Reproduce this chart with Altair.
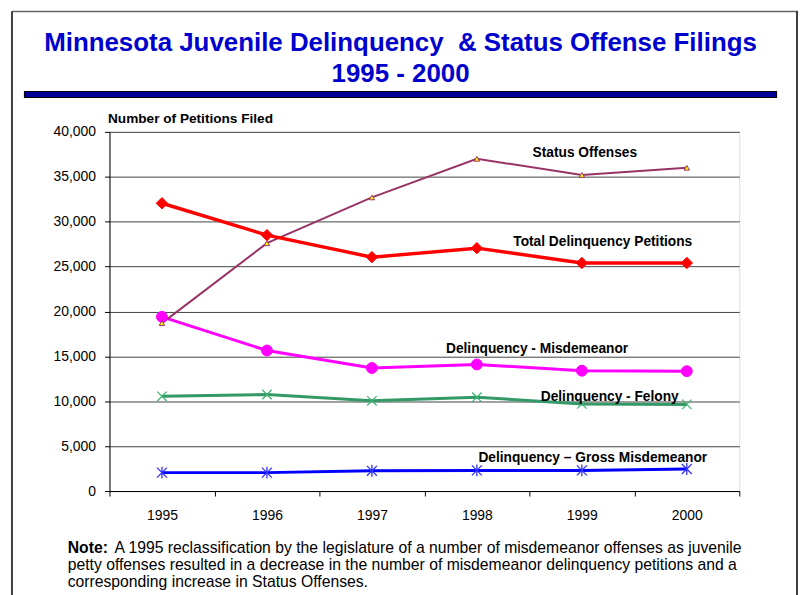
import altair as alt
import pandas as pd

FONT = "Liberation Sans, Arial, sans-serif"

years = ["1995", "1996", "1997", "1998", "1999", "2000"]
status = [18700, 27600, 32700, 37000, 35200, 36000]
total = [32050, 28500, 26050, 27050, 25400, 25400]
misd = [19400, 15650, 13700, 14100, 13400, 13350]
felony = [10550, 10750, 10050, 10450, 9700, 9650]
gross = [2050, 2050, 2250, 2300, 2300, 2450]

series_names = [
    "Status Offenses",
    "Total Delinquency Petitions",
    "Delinquency - Misdemeanor",
    "Delinquency - Felony",
    "Delinquency \u2013 Gross Misdemeanor",
]
y_ticks = [0, 5000, 10000, 15000, 20000, 25000, 30000, 35000, 40000]

title_lines = ["Minnesota Juvenile Delinquency\u00a0 & Status Offense Filings", "1995 - 2000"]
note_bold = "Note:"
note_lines = [
    "A 1995 reclassification by the legislature of a number of misdemeanor offenses as juvenile",
    "petty offenses resulted in a decrease in the number of misdemeanor delinquency petitions and a",
    "corresponding increase in Status Offenses.",
]

rows = []
for name, vals in zip(series_names, [status, total, misd, felony, gross]):
    for yr, v in zip(years, vals):
        rows.append({"year": yr, "series": name, "value": v})
df = pd.DataFrame(rows)
one = pd.DataFrame([{"k": 0}])

x_enc = alt.X(
    "year:N",
    scale=alt.Scale(type="band", domain=years, paddingInner=0, paddingOuter=0),
    axis=alt.Axis(
        title=None, tickBand="extent", labelAngle=0, labelFontSize=14, labelFont=FONT,
        labelColor="black", tickColor="black", domainColor="black", tickSize=5,
        labelPadding=13, grid=False,
    ),
)
y_enc = alt.Y(
    "value:Q",
    scale=alt.Scale(domain=[0, 40000], nice=False),
    axis=alt.Axis(
        values=y_ticks, format=",.0f", title="Number of Petitions Filed", titleAngle=0,
        titleAlign="left", titleBaseline="alphabetic", titleX=-2, titleY=-9,
        titleFontSize=13.7, titleFontWeight="bold", titleFont=FONT, titleColor="black",
        gridColor="#444444", gridWidth=1, labelFontSize=14, labelFont=FONT,
        labelColor="black", labelPadding=9, tickSize=5, tickColor="black",
        domainColor="black",
    ),
)

X_PATH = "M-1,-1L1,1M-1,1L1,-1"
AST_PATH = "M-1,-1L1,1M-1,1L1,-1M0,-1.2L0,1.2"

styles = {
    "Status Offenses": dict(color="#993366", width=2, shape="triangle-up", size=30,
                            filled=True, fill="#FFFF00", stroke="#993366", sw=1),
    "Total Delinquency Petitions": dict(color="#FF0000", width=3.5, shape="diamond", size=130,
                                        filled=True, fill="#FF0000", stroke="#FF0000", sw=1),
    "Delinquency - Misdemeanor": dict(color="#FF00FF", width=3, shape="circle", size=120,
                                      filled=True, fill="#FF00FF", stroke="#FF00FF", sw=1),
    "Delinquency - Felony": dict(color="#339966", width=3, shape=X_PATH, size=90,
                                 filled=False, fill="none", stroke="#3CB371", sw=1.2),
    "Delinquency \u2013 Gross Misdemeanor": dict(color="#0000FF", width=3, shape=AST_PATH, size=100,
                                                filled=False, fill="none", stroke="#3333FF", sw=1.3),
}

order = [
    "Delinquency \u2013 Gross Misdemeanor",
    "Delinquency - Felony",
    "Delinquency - Misdemeanor",
    "Status Offenses",
    "Total Delinquency Petitions",
]

layers = []
# slide frame
layers.append(alt.Chart(one).mark_rule(color="#666666", strokeWidth=1.5).encode(
    x=alt.value(-98), x2=alt.value(700), y=alt.value(-121)))
layers.append(alt.Chart(one).mark_rule(color="black", strokeWidth=1.5).encode(
    x=alt.value(-98), y=alt.value(-121), y2=alt.value(470)))
layers.append(alt.Chart(one).mark_rule(color="black", strokeWidth=1.5).encode(
    x=alt.value(691), y=alt.value(-121), y2=alt.value(470)))
# blue bar
layers.append(alt.Chart(one).mark_rule(color="black", strokeWidth=7).encode(
    x=alt.value(-86), x2=alt.value(671), y=alt.value(-37.5)))
layers.append(alt.Chart(one).mark_rule(color="#000099", strokeWidth=5).encode(
    x=alt.value(-85), x2=alt.value(670), y=alt.value(-37.5)))

for name in order:
    s = styles[name]
    base = alt.Chart(df).transform_filter(alt.datum.series == name)
    layers.append(base.mark_line(color=s["color"], strokeWidth=s["width"]).encode(x=x_enc, y=y_enc))
for name in order:
    s = styles[name]
    base = alt.Chart(df).transform_filter(alt.datum.series == name)
    layers.append(base.mark_point(
        shape=s["shape"], size=s["size"], filled=s["filled"], fill=s["fill"],
        stroke=s["stroke"], strokeWidth=s["sw"], opacity=1,
    ).encode(x=x_enc, y=y_enc))

# series labels (anchored near the 1999 point, in data units)
label_specs = [
    ("Status Offenses", 37640, 3),
    ("Total Delinquency Petitions", 27750, 21),
    ("Delinquency - Misdemeanor", 15850, -45),
    ("Delinquency - Felony", 10450, 28),
    ("Delinquency \u2013 Gross Misdemeanor", 3730, 11),
]
for text, val, dx in label_specs:
    ldf = pd.DataFrame([{"year": "1999", "value": val, "label": text}])
    layers.append(alt.Chart(ldf).mark_text(
        font=FONT, fontSize=13.8, fontWeight="bold", color="black",
        align="center", baseline="middle", dx=dx,
    ).encode(x=x_enc, y=y_enc, text="label:N"))

# note
NOTE_SIZE = 15.8
layers.append(alt.Chart(one).mark_text(
    font=FONT, fontSize=NOTE_SIZE, fontWeight="bold", color="black", align="left",
    baseline="alphabetic", text=note_bold).encode(x=alt.value(-42), y=alt.value(423)))
note_x = [5, -42, -42]
note_y = [423, 440, 457]
for t, nx, ny in zip(note_lines, note_x, note_y):
    layers.append(alt.Chart(one).mark_text(
        font=FONT, fontSize=NOTE_SIZE, color="black", align="left", baseline="alphabetic",
        text=t).encode(x=alt.value(nx), y=alt.value(ny)))

chart = alt.layer(*layers).properties(
    width=633,
    height=361,
    autosize=alt.AutoSizeParams(type="none"),
    padding={"left": 102, "top": 123, "right": 59, "bottom": 103},
    title=alt.TitleParams(
        text=title_lines, font=FONT, fontSize=26, fontWeight="bold", color="#0000CC",
        anchor="middle", frame="group", offset=0, dy=77, dx=-24,
        lineHeight=32,
    ),
).configure_view(stroke="black", strokeWidth=1).configure(background="white")

chart.save("out.html", embed_options={"renderer": "svg", "actions": False})
